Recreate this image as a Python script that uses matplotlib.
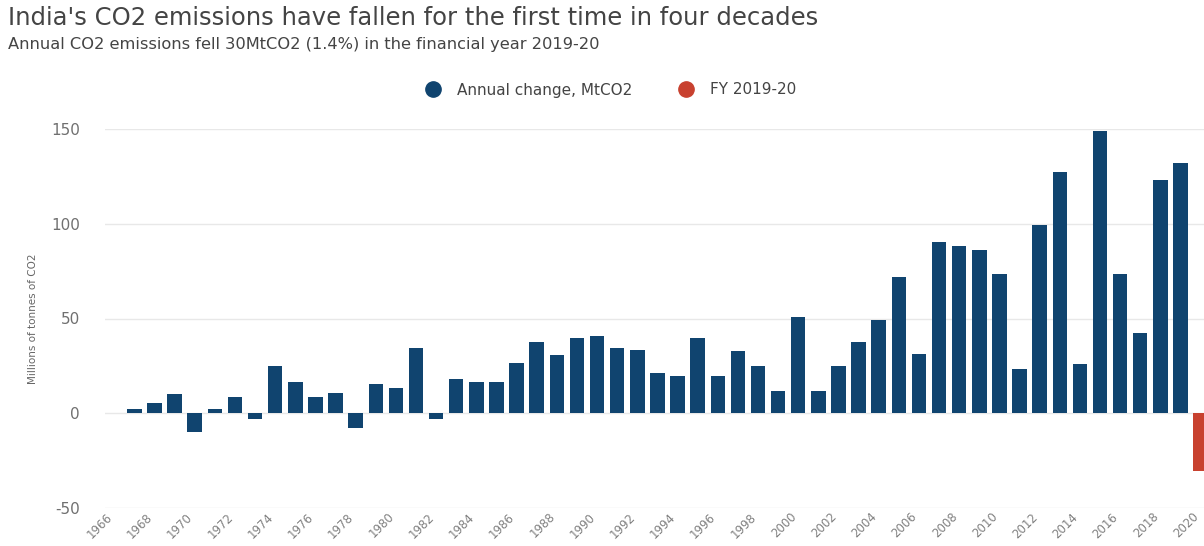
import matplotlib.pyplot as plt
import matplotlib.transforms as mtransforms
from matplotlib.lines import Line2D

plt.rcParams['font.family'] = ['DejaVu Sans']
plt.rcParams['axes.unicode_minus'] = False

# annual change in India's CO2 emissions, MtCO2
years = list(range(1967, 2021))
change = [2.1, 5.6, 10.0, -10.0, 2.1, 8.8, -2.8, 25.0, 16.4, 8.8,
          10.9, -8.0, 15.3, 13.2, 34.2, -2.8, 18.2, 16.4, 16.4, 26.3,
          37.4, 30.7, 39.5, 40.6, 34.4, 33.3, 21.3, 19.4, 39.5, 19.4,
          32.8, 24.7, 12.0, 50.9, 12.0, 25.0, 37.4, 49.0, 71.9, 31.5,
          90.3, 88.2, 86.0, 73.7, 23.6, 99.1, 127.3, 26.1, 149.2, 73.7,
          42.6, 123.1, 132.3, -30.5]
tick_years = list(range(1966, 2021, 2))

blue = '#10446f'
red = '#c8412f'

fig = plt.figure(figsize=(12.04, 5.46), dpi=100)
ax = fig.add_axes([105 / 1204, 1 - 508 / 546, 1 - 105 / 1204, 379 / 546])

ax.bar(years[:-1], change[:-1], width=0.72, color=blue, zorder=3)
ax.bar(years[-1:], change[-1:], width=0.72, color=red, zorder=3)

ax.set_xlim(1965.54, 2020.17)
ax.set_ylim(-50, 150)
ax.set_yticks([-50, 0, 50, 100, 150])
ax.set_xticks(tick_years)
ax.set_xticklabels([str(y) for y in tick_years], rotation=45, ha='right',
                   va='center', rotation_mode='anchor')
ax.tick_params(axis='y', length=0, pad=18, labelsize=11, labelcolor='#707070')
ax.tick_params(axis='x', length=0, pad=5, labelsize=8.5, labelcolor='#808080')
shift = mtransforms.ScaledTranslation(-4 / 100, 0, fig.dpi_scale_trans)
for lbl in ax.get_xticklabels():
    lbl.set_transform(lbl.get_transform() + shift)
ax.yaxis.grid(True, color='#e8e8e8', linewidth=1, zorder=0)
ax.set_axisbelow(True)
for s in ax.spines.values():
    s.set_visible(False)

ax.set_ylabel('Millions of tonnes of CO2', fontsize=7.5, color='#666666')
ax.yaxis.set_label_coords(-0.061, 0.5)

fig.text(8 / 1204, 1 - 18 / 546, "India's CO2 emissions have fallen for the first time in four decades",
         fontsize=17.5, color='#444444', va='center', ha='left')
fig.text(8 / 1204, 1 - 44 / 546, 'Annual CO2 emissions fell 30MtCO2 (1.4%) in the financial year 2019-20',
         fontsize=11.7, color='#444444', va='center', ha='left')

handles = [Line2D([], [], marker='o', linestyle='', markersize=11, color=blue),
           Line2D([], [], marker='o', linestyle='', markersize=11, color=red)]
fig.legend(handles, ['Annual change, MtCO2', 'FY 2019-20'], ncol=2,
           loc='center', bbox_to_anchor=(607 / 1204, 1 - 90 / 546), frameon=False,
           fontsize=11, labelcolor='#444444', handletextpad=0.6, columnspacing=2.5)

fig.savefig('out.png', dpi=100)
